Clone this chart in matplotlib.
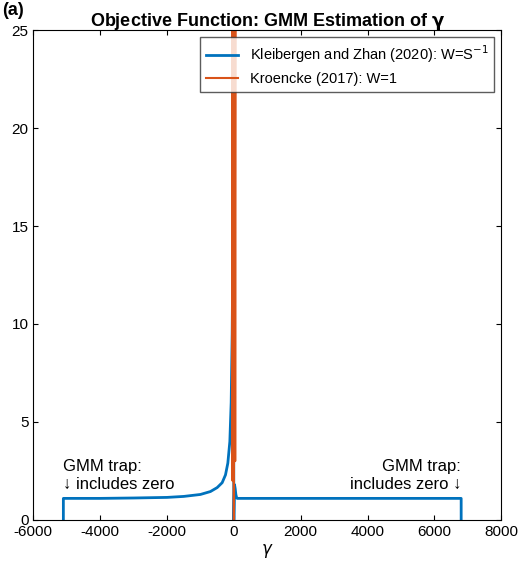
import matplotlib
matplotlib.use('Agg')
import matplotlib.pyplot as plt

plt.rcParams['font.family'] = ['Liberation Sans', 'DejaVu Sans']
plt.rcParams['axes.unicode_minus'] = False

# blue: Kleibergen and Zhan (2020), W = S^-1
kz_x = [-5100, -5100, -4000, -3000, -2000, -1500, -1000, -700, -500, -350, -250,
        -180, -120, -80, -50, -30, -20, -10, 0, 10, 20, 40, 60, 80, 100, 150, 300,
        1000, 3000, 5000, 6800, 6800]
kz_y = [0, 1.1, 1.1, 1.12, 1.15, 1.2, 1.3, 1.45, 1.65, 1.9, 2.3,
        2.9, 4.0, 6.0, 9.5, 14.0, 21.0, 8.0, 0.0, 1.0, 1.8, 1.6, 1.3, 1.15, 1.1, 1.1, 1.1,
        1.1, 1.1, 1.1, 1.1, 0]
# orange: Kroencke (2017), W = 1
kr_x = [-90, -70, -55, -40, -30, -20, -10, 0, 10, 20, 30, 40, 55, 70, 90]
kr_y = [40, 30, 26, 2, 20, 28, 5, 0, 6, 26, 22, 3, 25, 30, 40]

fig = plt.figure(figsize=(5.2, 5.67), dpi=100)
ax = fig.add_axes([0.064, 0.083, 0.9, 0.864])
ax.plot(kz_x, kz_y, color='#0072BD', lw=2, label='Kleibergen and Zhan (2020): W=S$^{-1}$')
ax.plot(kr_x, kr_y, color='#D95319', lw=1.5, label='Kroencke (2017): W=1')
ax.set_xlim(-6000, 8000)
ax.set_ylim(0, 25)
ax.set_xticks(range(-6000, 8001, 2000))
ax.set_yticks(range(0, 26, 5))
ax.tick_params(direction='in', labelsize=11, top=True, right=True)
ax.set_xlabel(r'$\gamma$', fontsize=12, labelpad=2)
ax.set_title(r'Objective Function: GMM Estimation of $\mathbf{\gamma}$',
             fontsize=13, fontweight='bold', pad=3)
ax.legend(loc='upper right', fontsize=10.5, fancybox=False, edgecolor='#333333',
          borderaxespad=0.5, handlelength=2.2)
ax.text(-5100, 1.45, 'GMM trap:\n\u2193 includes zero', fontsize=12, ha='left', va='bottom')
ax.text(6800, 1.45, 'GMM trap:\nincludes zero \u2193', fontsize=12, ha='right', va='bottom',
        multialignment='right')
fig.text(0.005, 0.982, '(a)', fontsize=13, fontweight='bold', va='center')
fig.savefig('out.png')
